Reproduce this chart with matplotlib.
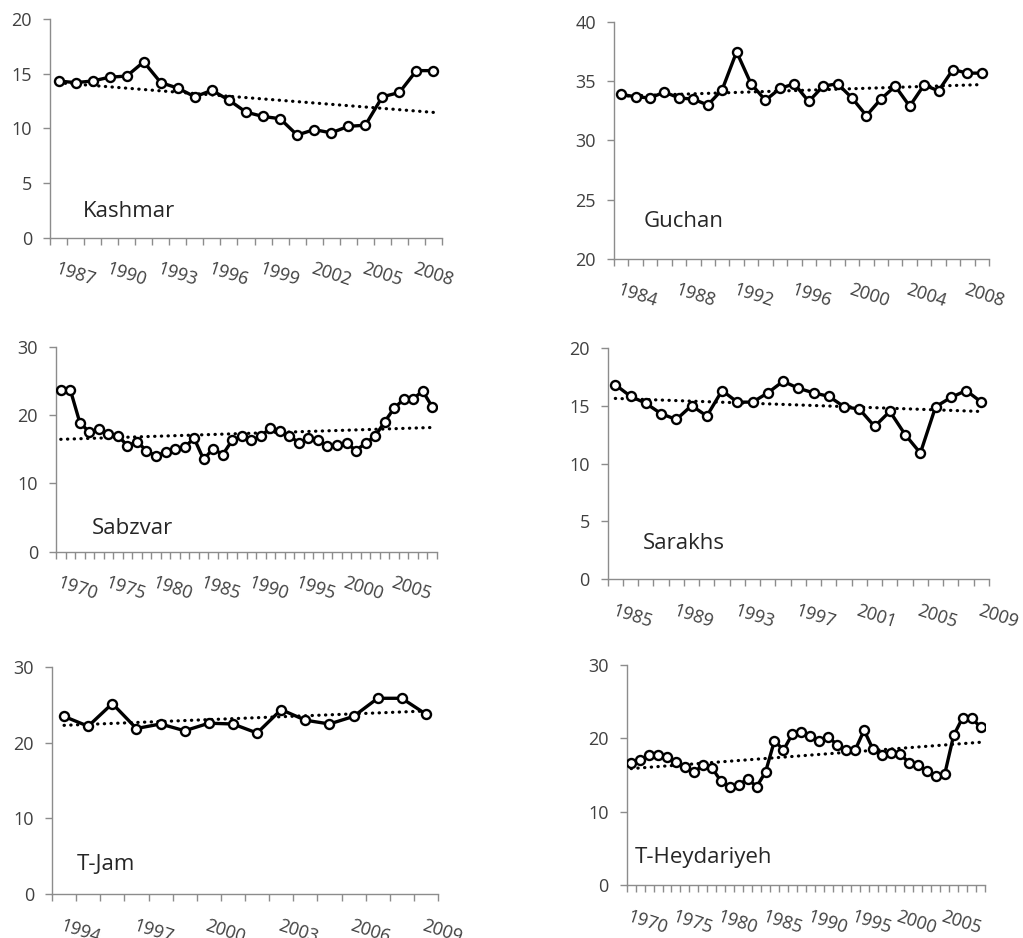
import numpy as np
import matplotlib
matplotlib.use("Agg")
import matplotlib.pyplot as plt

plt.rcParams['font.family'] = ['Open Sans', 'DejaVu Sans']

# values (one value per year)
kashmar_start = 1987
kashmar = [14.35, 14.2, 14.35, 14.7, 14.8, 16.1, 14.2, 13.7, 12.9, 13.5, 12.6, 11.5,
           11.1, 10.9, 9.4, 9.9, 9.6, 10.2, 10.3, 12.9, 13.3, 15.3, 15.3]

guchan_start = 1984
guchan = [33.9, 33.7, 33.6, 34.1, 33.6, 33.5, 33.0, 34.3, 37.5, 34.8, 33.4, 34.4, 34.8,
          33.3, 34.6, 34.8, 33.6, 32.1, 33.5, 34.6, 32.9, 34.7, 34.2, 36.0, 35.7, 35.7]

sabzvar_start = 1970
sabzvar = [23.6, 23.7, 18.9, 17.5, 17.9, 17.2, 17.0, 15.5, 16.1, 14.8, 14.0, 14.6, 15.0,
           15.3, 16.6, 13.5, 15.1, 14.2, 16.3, 16.9, 16.3, 16.9, 18.1, 17.7, 17.0, 15.9,
           16.6, 16.4, 15.4, 15.6, 15.9, 14.8, 15.9, 16.9, 19.0, 21.0, 22.3, 22.4, 23.5, 21.2]

sarakhs_start = 1985
sarakhs = [16.8, 15.8, 15.2, 14.3, 13.8, 15.0, 14.1, 16.3, 15.3, 15.3, 16.1, 17.1, 16.5,
           16.1, 15.8, 14.9, 14.7, 13.2, 14.5, 12.5, 10.9, 14.9, 15.7, 16.3, 15.3]

tjam_start = 1994
tjam = [23.5, 22.2, 25.2, 21.9, 22.5, 21.6, 22.6, 22.5, 21.3, 24.4, 23.0, 22.5, 23.5,
        25.9, 25.9, 23.8]

theyd_start = 1970
theyd = [16.7, 17.1, 17.7, 17.7, 17.5, 16.8, 16.1, 15.4, 16.3, 16.0, 14.2, 13.4, 13.6,
         14.5, 13.4, 15.4, 19.7, 18.4, 20.6, 20.8, 20.3, 19.7, 20.2, 19.1, 18.4, 18.4,
         21.1, 18.5, 17.7, 18.0, 17.9, 16.7, 16.3, 15.6, 14.9, 15.1, 20.4, 22.8, 22.8, 21.5]

# name, start year, values, label step, y limits, y step, axes box in pixels, label pos
panels = [
    ("Kashmar", kashmar_start, kashmar, 3, (0, 20), 5, (50, 19.3, 442, 237.7), (0.084, 0.118)),
    ("Guchan", guchan_start, guchan, 4, (20, 40), 5, (614, 22.3, 989, 258.7), (0.078, 0.157)),
    ("Sabzvar", sabzvar_start, sabzvar, 5, (0, 30), 10, (56, 346.7, 437, 551.7), (0.094, 0.114)),
    ("Sarakhs", sarakhs_start, sarakhs, 4, (0, 20), 5, (607.7, 347.7, 989, 579.3), (0.093, 0.155)),
    ("T-Jam", tjam_start, tjam, 3, (0, 30), 10, (52, 667.3, 438, 894), (0.064, 0.128)),
    ("T-Heydariyeh", theyd_start, theyd, 5, (0, 30), 10, (626.7, 665, 985, 885), (0.023, 0.126)),
]

W, H = 1023, 938
fig = plt.figure(figsize=(W / 100, H / 100), dpi=100)
txt = '#404040'
spine = '#8c8c8c'

for name, start, vals, step, ylim, ystep, box, lpos in panels:
    x0, y0, x1, y1 = box
    ax = fig.add_axes([x0 / W, 1 - y1 / H, (x1 - x0) / W, (y1 - y0) / H])
    n = len(vals)
    idx = np.arange(n)
    years = start + idx

    # linear trend
    k, b = np.polyfit(idx, vals, 1)
    ax.plot(idx, k * idx + b, color='black', lw=2.3, linestyle=(0, (0.1, 2.0)),
            dash_capstyle='round', zorder=2)
    ax.plot(idx, vals, color='black', lw=2.4, marker='o', ms=6.5,
            mfc='white', mec='black', mew=1.7, zorder=3)

    ax.set_xlim(-0.5, n - 0.5)
    ax.set_ylim(*ylim)
    ax.set_yticks(np.arange(ylim[0], ylim[1] + 0.1, ystep))

    ax.set_xticks(np.arange(-0.5, n, 1.0), minor=True)
    lab = idx[::step]
    ax.set_xticks(lab)
    ax.set_xticklabels([str(y) for y in years[::step]], rotation=-18, ha='left',
                       rotation_mode='anchor')
    ax.tick_params(axis='x', which='major', length=0, pad=16, labelsize=13, labelcolor=txt)
    ax.tick_params(axis='x', which='minor', length=5, width=1, color=spine, direction='out')
    ax.tick_params(axis='y', length=5, width=1, color=spine, pad=8, labelsize=13,
                   labelcolor=txt)

    for s in ('top', 'right'):
        ax.spines[s].set_visible(False)
    for s in ('left', 'bottom'):
        ax.spines[s].set_color(spine)
        ax.spines[s].set_linewidth(1)
    ax.patch.set_alpha(0)

    ax.text(lpos[0], lpos[1], name, transform=ax.transAxes, fontsize=16,
            color='#262626', ha='left', va='center')

fig.savefig("out.png", dpi=100)
plt.close(fig)
